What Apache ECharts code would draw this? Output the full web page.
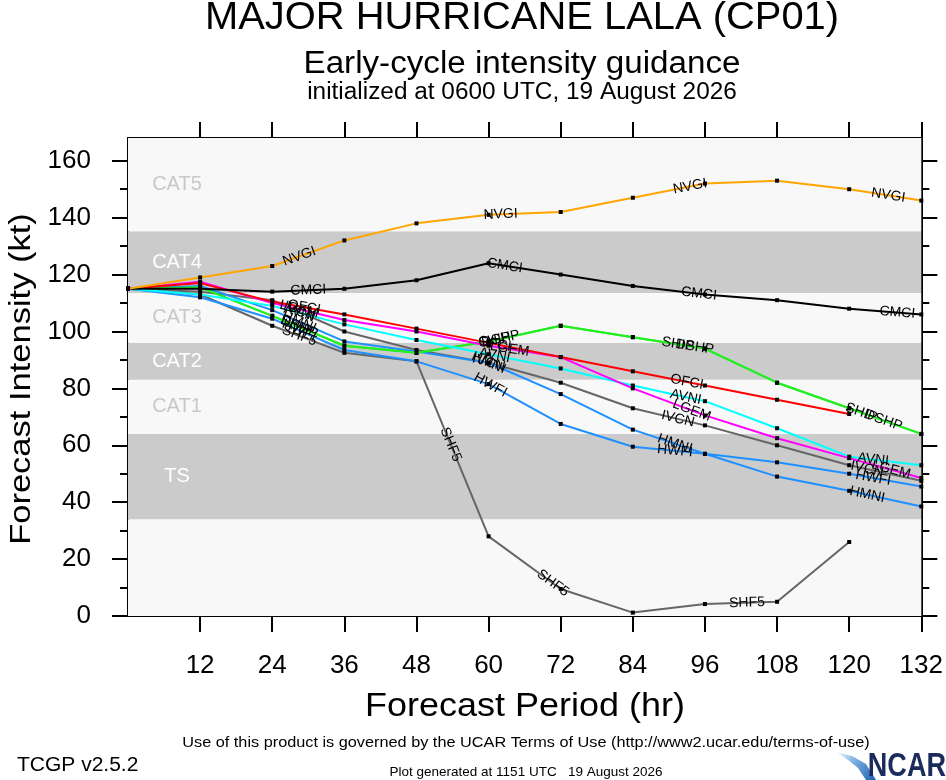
<!DOCTYPE html>
<html>
<head>
<meta charset="utf-8">
<script src="https://cdn.jsdelivr.net/npm/echarts@6/dist/echarts.min.js"></script>
<style>
html,body{margin:0;padding:0;background:#fff;}
#c{width:946px;height:780px;}
</style>
</head>
<body>
<div id="c"></div>
<script>
// ---------------- data ----------------
const hours = [0, 12, 24, 36, 48, 60, 72, 84, 96, 108, 120, 132];
const xTickLabels = [12, 24, 36, 48, 60, 72, 84, 96, 108, 120, 132];
const yTickLabels = [0, 20, 40, 60, 80, 100, 120, 140, 160];

const NVGI = [115, 119, 123, 132, 138, 141, 142, 147, 152, 153, 150, 146];
const CMCI = [115, 115, 114, 115, 118, 124, 120, 116, 113, 111, 108, 106];
const OFCI = [115, 117, 110.5, 106, 101, 96, 91, 86, 81, 76, 71, null];
const LGEM = [115, 117.5, 110, 104, 100, 95, 91, 80, 70.5, 62.5, 55.5, 48.5];
const AVNI = [115, 113, 109, 102.5, 97, 92, 87, 81, 75.5, 66, 56, 53];
const IVCN = [115, 114, 111, 100, 93.5, 89, 82, 73, 67, 60, 53, 47.5];
const HWFI = [115, 112, 104.5, 93.5, 89.5, 81.5, 67.5, 59.5, 57, 54, 50, 45.5];
const HMNI = [115, 116, 107.5, 96.5, 93, 89, 78, 65.5, 57, 49, 44, 38.5];
const SHIP = [115, 115.5, 105.5, 95, 92.5, 96.5, 102, 98, 94, 82, 73, 64];
const DSHP = [115, 115.5, 105.5, 95, 92.5, 96.5, 102, 98, 94, 82, 73, 64];
const SHF5 = [115, 113, 102, 92.5, 89.5, 28, 9.5, 1.2, 4.2, 5, 26, null];

// intensity category bands (kt)
const bandNames = ['', 'TS', 'CAT1', 'CAT2', 'CAT3', 'CAT4', 'CAT5'];
const bandEdges = [0, 34, 64, 83, 96, 113.5, 135.2, 168];

// ---------------- styling ----------------
const FONT = '"Liberation Sans", Arial, Helvetica, sans-serif';
const models = [
  {name: 'SHF5', data: SHF5, color: '#666666', labels: [28.5, 53.7, 70.7, 103]},
  {name: 'IVCN', data: IVCN, color: '#666666', labels: [28.5, 60, 91.5, 123]},
  {name: 'HWFI', data: HWFI, color: '#1e90ff', labels: [28.5, 60.3, 91, 124]},
  {name: 'HMNI', data: HMNI, color: '#1e90ff', labels: [28.5, 60, 91, 123]},
  {name: 'SHIP', data: SHIP, color: '#22ee22', labels: [28, 61, 91.5, 122]},
  {name: 'DSHP', data: DSHP, color: '#22ee22', labels: [28.5, 62, 94.3, 125.7]},
  {name: 'AVNI', data: AVNI, color: '#00ffff', labels: [28.5, 61, 92.8, 124]},
  {name: 'LGEM', data: LGEM, color: '#ff00ff', labels: [28.5, 63.5, 93.8, 127]},
  {name: 'OFCI', data: OFCI, color: '#ff0000', labels: [29.3, 61, 93]},
  {name: 'CMCI', data: CMCI, color: '#000000', labels: [30, 62.7, 95, 128]},
  {name: 'NVGI', data: NVGI, color: '#ffa500', labels: [28.5, 62, 93.5, 126.5]}
];
const bandLight = '#f8f8f8', bandDark = '#cbcbcb';

const chart = echarts.init(document.getElementById('c'), null, {renderer: 'canvas'});

const bandAreas = bandNames.map((nm, i) => {
  const dark = i % 2 === 1;
  return [{
    xAxis: 0, yAxis: bandEdges[i],
    itemStyle: {color: dark ? bandDark : bandLight},
    label: {
      show: nm !== '', formatter: nm, position: [49, '50%'],
      align: 'center', verticalAlign: 'middle',
      fontFamily: FONT, fontSize: 20, color: dark ? '#ffffff' : '#c8c8c8'
    }
  }, {xAxis: 132, yAxis: bandEdges[i + 1]}];
});

const axisLineStyle = {show: true, lineStyle: {color: '#000', width: 2}};
const mkY = (pos, customTicks, len, showLabel) => ({
  type: 'value', min: 0, max: 168, position: pos,
  axisLine: axisLineStyle,
  splitLine: {show: false},
  axisTick: {show: true, inside: false, length: len, customValues: customTicks,
             lineStyle: {color: '#000', width: 2}},
  axisLabel: showLabel ? {show: true, customValues: yTickLabels, margin: 37,
             fontFamily: FONT, fontSize: 26, color: '#000'} : {show: false}
});
const minorY = yTickLabels.slice(0, -1).map(v => v + 10);

const series = [{
  type: 'line', data: [], silent: true, z: 1,
  markArea: {silent: true, data: bandAreas}
}];
models.forEach((m, k) => {
  const pts = [];
  hours.forEach((h, i) => { if (m.data[i] != null) pts.push([h, m.data[i]]); });
  series.push({
    type: 'line', name: m.name, data: pts, z: 3 + k,
    symbol: 'rect', symbolSize: 4, showSymbol: true,
    itemStyle: {color: '#000'},
    lineStyle: {color: m.color, width: 2},
    emphasis: {disabled: true}, silent: true, animation: false
  });
});

const baseGraphics = [
  {type: 'text', x: 522, y: 19, scaleX: 1.05, style: {text: 'MAJOR HURRICANE LALA (CP01)',
    font: '38px ' + FONT, fill: '#000', align: 'center', verticalAlign: 'middle'}},
  {type: 'text', x: 522, y: 64, scaleX: 1.07, style: {text: 'Early-cycle intensity guidance',
    font: '31px ' + FONT, fill: '#000', align: 'center', verticalAlign: 'middle'}},
  {type: 'text', x: 522, y: 93, scaleX: 1.06, style: {text: 'initialized at 0600 UTC, 19 August 2026',
    font: '23px ' + FONT, fill: '#000', align: 'center', verticalAlign: 'middle'}},
  {type: 'text', x: 525, y: 707, scaleX: 1.09, style: {text: 'Forecast Period (hr)',
    font: '33px ' + FONT, fill: '#000', align: 'center', verticalAlign: 'middle'}},
  {type: 'text', x: 22, y: 379, rotation: Math.PI / 2, scaleX: 1.15, style: {text: 'Forecast Intensity (kt)',
    font: '30px ' + FONT, fill: '#000', align: 'center', verticalAlign: 'middle'}},
  {type: 'text', x: 526, y: 743, scaleX: 1.05, style: {text: 'Use of this product is governed by the UCAR Terms of Use (http://www2.ucar.edu/terms-of-use)',
    font: '15.5px ' + FONT, fill: '#000', align: 'center', verticalAlign: 'middle'}},
  {type: 'text', x: 17, y: 765, scaleX: 1.05, style: {text: 'TCGP v2.5.2',
    font: '20px ' + FONT, fill: '#000', align: 'left', verticalAlign: 'middle'}},
  {type: 'text', x: 526, y: 772, style: {text: 'Plot generated at 1151 UTC   19 August 2026',
    font: '13.5px ' + FONT, fill: '#000', align: 'center', verticalAlign: 'middle'}},
  // NCAR logo
  {type: 'polygon', shape: {points: [[836, 752], [852, 756], [866, 764], [876, 780], [866, 780], [858, 768], [848, 760]]},
    style: {fill: new echarts.graphic.LinearGradient(0, 0, 1, 1, [
      {offset: 0, color: '#ffffff'}, {offset: 0.4, color: '#7fb2e5'}, {offset: 1, color: '#1f5fae'}])}},
  {type: 'text', x: 946, y: 767, scaleX: 0.82, style: {text: 'NCAR',
    font: 'bold 33px ' + FONT, fill: '#1b2b5b', align: 'right', verticalAlign: 'middle'}}
];

chart.setOption({
  animation: false,
  backgroundColor: '#ffffff',
  grid: {left: 128, right: 23, top: 138, bottom: 164, containLabel: false},
  xAxis: [{
    type: 'value', min: 0, max: 132, interval: 12, position: 'bottom',
    axisLine: Object.assign({onZero: false}, axisLineStyle),
    splitLine: {show: false},
    axisTick: {show: true, inside: false, length: 16, customValues: xTickLabels,
               lineStyle: {color: '#000', width: 2}},
    axisLabel: {show: true, customValues: xTickLabels, margin: 37,
                fontFamily: FONT, fontSize: 26, color: '#000'}
  }, {
    type: 'value', min: 0, max: 132, interval: 12, position: 'top',
    axisLine: Object.assign({onZero: false}, axisLineStyle),
    splitLine: {show: false},
    axisTick: {show: true, inside: false, length: 16, customValues: xTickLabels,
               lineStyle: {color: '#000', width: 2}},
    axisLabel: {show: false}
  }],
  yAxis: [
    mkY('left', yTickLabels, 16, true),
    mkY('left', minorY, 8, false),
    mkY('right', yTickLabels, 16, false),
    mkY('right', minorY, 8, false)
  ],
  series: series,
  graphic: baseGraphics
});

// ---------- curve labels placed along each line (NCL style) ----------
function px(h, v) { return chart.convertToPixel({xAxisIndex: 0, yAxisIndex: 0}, [h, v]); }
const labelGraphics = [];
models.forEach(m => {
  m.labels.forEach(lh => {
    let i = 0;
    while (i < hours.length - 2 && hours[i + 1] <= lh) i++;
    if (m.data[i] == null || m.data[i + 1] == null) return;
    const p1 = px(hours[i], m.data[i]);
    const p2 = px(hours[i + 1], m.data[i + 1]);
    const t = (lh - hours[i]) / (hours[i + 1] - hours[i]);
    const x = p1[0] + (p2[0] - p1[0]) * t;
    const y = p1[1] + (p2[1] - p1[1]) * t;
    const rot = -Math.atan2(p2[1] - p1[1], p2[0] - p1[0]);
    labelGraphics.push({type: 'text', x: x, y: y, rotation: rot, z: 100,
      style: {text: m.name, font: '14px ' + FONT, fill: '#000', align: 'center', verticalAlign: 'middle'}});
  });
});
chart.setOption({graphic: baseGraphics.concat(labelGraphics)});
</script>
</body>
</html>
